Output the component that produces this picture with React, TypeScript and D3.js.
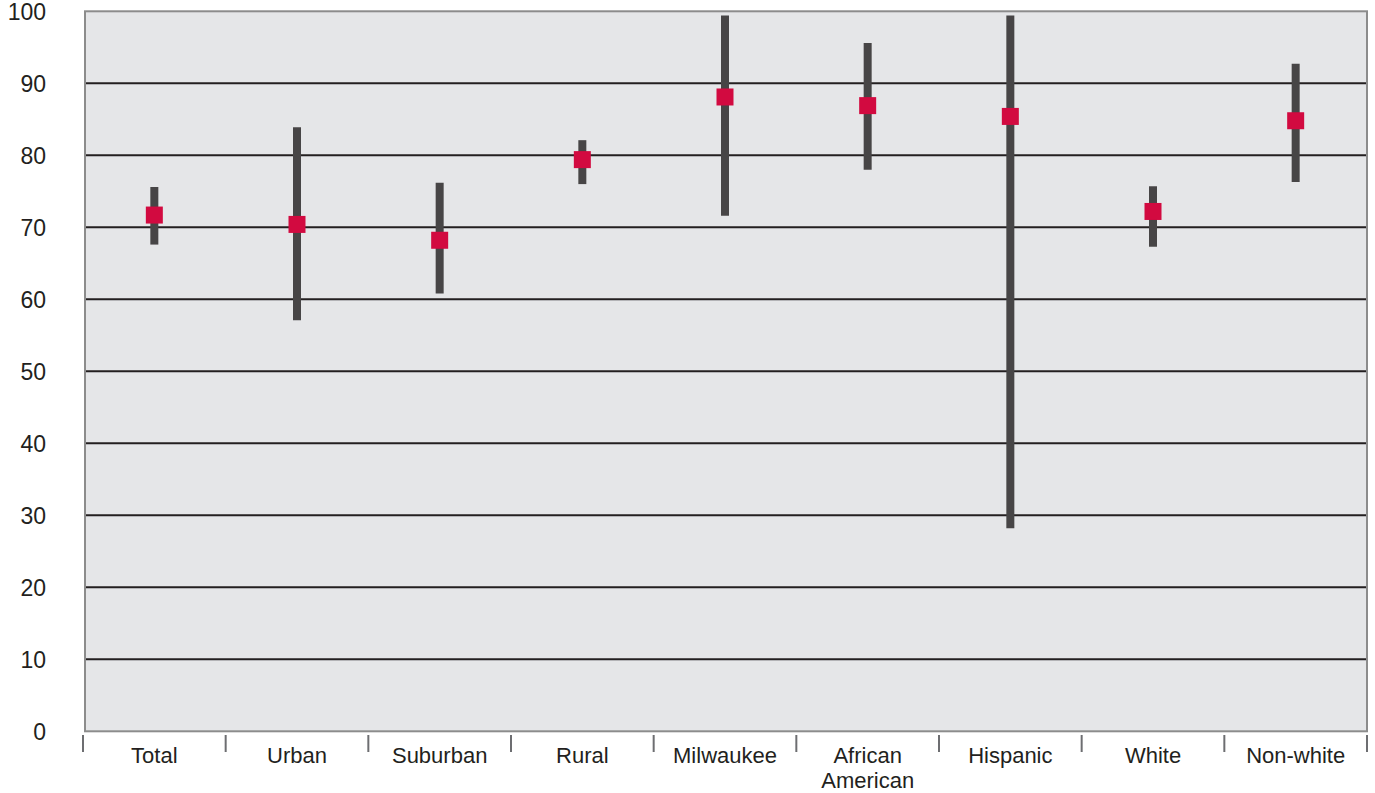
import React from "react";
import * as d3 from "d3";

const categories = ["Total", "Urban", "Suburban", "Rural", "Milwaukee", "African American", "Hispanic", "White", "Non-white"];
const estimates = [71.7, 70.4, 68.2, 79.4, 88.1, 86.9, 85.4, 72.2, 84.8];
const lowerBounds = [67.6, 57.1, 60.8, 76.0, 71.6, 78.0, 28.2, 67.3, 76.3];
const upperBounds = [75.6, 83.9, 76.2, 82.1, 99.4, 95.6, 99.4, 75.7, 92.7];
const yTicks = [0, 10, 20, 30, 40, 50, 60, 70, 80, 90, 100];

const W = 1375;
const H = 793;
const left = 85;
const right = 1367;
const top = 11.3;
const bottom = 731.3;
const FONT = "'Liberation Sans', Arial, sans-serif";

export default function App() {
  const y = d3.scaleLinear().domain([0, 100]).range([bottom, top]);
  const x = d3.scaleBand<string>().domain(categories).range([83, 1367]).padding(0);
  const bw = x.bandwidth();
  const boundaries = categories.map((c) => x(c)!).concat([x(categories[categories.length - 1])! + bw]);

  return (
    <svg width={W} height={H} style={{ position: "absolute", left: 0, top: 0, display: "block" }}>
      <rect x={0} y={0} width={W} height={H} fill="#ffffff" />
      <rect x={left} y={top} width={right - left} height={bottom - top} fill="#e5e6e8" />
      {yTicks.filter((t) => t > 0 && t < 100).map((t) => (
        <line key={"g" + t} x1={left} x2={right} y1={y(t)} y2={y(t)} stroke="#231f20" strokeWidth={2} />
      ))}
      <rect x={left} y={top} width={right - left} height={bottom - top} fill="none" stroke="#8c8c8c" strokeWidth={2} />
      {yTicks.map((t) => (
        <text key={"y" + t} x={46} y={y(t) + 3} textAnchor="end" dominantBaseline="middle" fontFamily={FONT} fontSize={23} fill="#231f20">
          {t}
        </text>
      ))}
      {boundaries.map((b, i) => (
        <line key={"t" + i} x1={b} x2={b} y1={735} y2={752} stroke="#6d6e71" strokeWidth={2} />
      ))}
      {categories.map((c, i) => {
        const cx = x(c)! + bw / 2;
        const words = c.split(" ");
        return (
          <g key={c}>
            <line x1={cx} x2={cx} y1={y(upperBounds[i])} y2={y(lowerBounds[i])} stroke="#474546" strokeWidth={8} />
            <rect x={cx - 8.5} y={y(estimates[i]) - 8.5} width={17} height={17} fill="#d20a40" />
            <text x={cx} y={763} textAnchor="middle" fontFamily={FONT} fontSize={22} fill="#231f20">
              {words.length > 1 && c === "African American"
                ? words.map((w, j) => (
                    <tspan key={j} x={cx} dy={j === 0 ? 0 : 25}>
                      {w}
                    </tspan>
                  ))
                : c}
            </text>
          </g>
        );
      })}
    </svg>
  );
}
